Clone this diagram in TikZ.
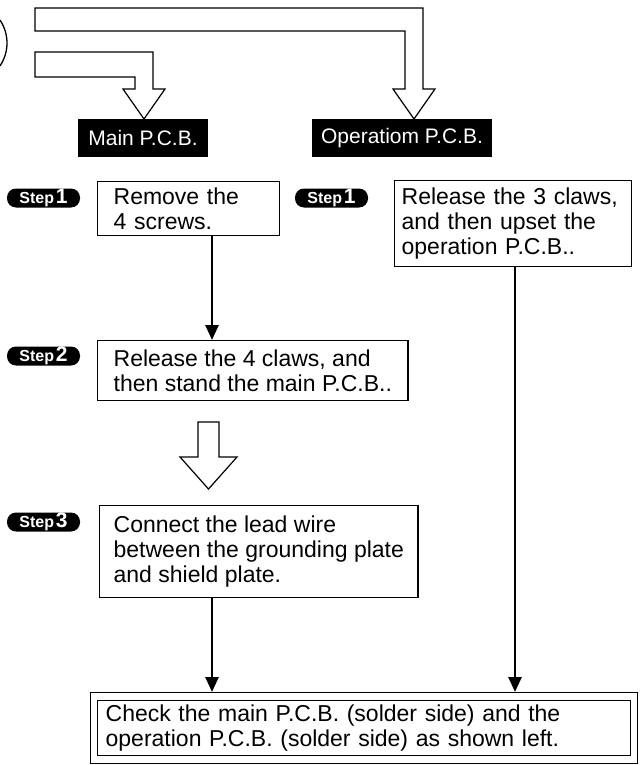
\documentclass[tikz,border=0pt]{standalone}
\usepackage{fontspec}
\setmainfont{Liberation Sans}
\usetikzlibrary{arrows.meta}

\tikzset{
  stepbox/.style={draw, line width=1.3pt, fill=white, align=left, anchor=north west,
    inner ysep=0pt, font=\fontsize{23}{25}\selectfont},
  pcblbl/.style={fill=black, text=white, minimum height=38pt, inner sep=0pt,
    font=\fontsize{21}{24}\selectfont},
  badge/.style={fill=black, text=white, rounded corners=9pt, minimum width=73pt,
    minimum height=19pt, inner sep=0pt, font=\bfseries},
  hollow/.style={draw, line width=1.2pt, fill=white},
  flow/.style={line width=2.6pt, -{Triangle[width=13pt,length=15pt]}},
}
\newcommand{\badgetext}[1]{{\fontsize{16}{16}\selectfont Step}\,{\fontsize{21}{21}\selectfont #1}}

\begin{document}
\begin{tikzpicture}[x=1pt, y=-1pt]
    \useasboundingbox (0,0) rectangle (644,765);
    % hollow arrows at the top
    \draw[line width=1.3pt] (-34,43) ++(-34:41pt) arc[start angle=-34, end angle=34, radius=41pt];
    \draw[hollow] (35,8) -- (423,8) -- (423,89) -- (435,89) -- (414,119) -- (393,89) -- (405,89) -- (405,31) -- (35,31) -- cycle;
    \draw[hollow] (35,52) -- (153,52) -- (153,89) -- (165,89) -- (144,119) -- (123,89) -- (135,89) -- (135,77) -- (35,77) -- cycle;

    \node[pcblbl, minimum width=130pt] (mainlbl) at (143,138) {Main P.C.B.};
    \node[pcblbl, minimum width=180pt] (oplbl) at (402,138) {Operatiom P.C.B.};

    \node[badge] (stpA) at (43.5,198) {\badgetext{1}};
    \node[badge] (stpB) at (331.5,198) {\badgetext{1}};
    \node[badge] (stpC) at (43.5,356) {\badgetext{2}};
    \node[badge] (stpD) at (43.5,522) {\badgetext{3}};

    \node[stepbox, inner xsep=16pt, text width=150pt, minimum height=54pt] (screws) at (97,181)
        {Remove the\\4 screws.};
    \node[stepbox, inner xsep=16pt, minimum height=60pt] (claws) at (97,340)
        {Release the 4 claws, and\\then stand the main P.C.B..};
    \node[stepbox, inner xsep=14pt, minimum height=92pt] (lead) at (99,505)
        {Connect the lead wire\\between the grounding plate\\and shield plate.};
    \node[stepbox, inner xsep=7pt, text width=223pt, minimum height=86pt] (upset) at (394,180)
        {Release the 3 claws,\\and then upset the\\operation P.C.B..};

    \node[draw, line width=1.3pt, anchor=north west, minimum width=547pt, minimum height=71pt] (checkout) at (90,692) {};
    \node[stepbox, inner xsep=8pt, text width=517pt, minimum height=55pt] (check) at (97,700)
        {Check the main P.C.B. (solder side) and the\\operation P.C.B. (solder side) as shown left.};

    \draw[hollow] (198,422) -- (219,422) -- (219,457) -- (237,457) -- (208.5,489) -- (180,457) -- (198,457) -- cycle;

    \coordinate (lcol) at (212,0);
    \coordinate (rcol) at (515,0);
    \draw[flow] (screws.south -| lcol) -- (claws.north -| lcol);
    \draw[flow] (lead.south -| lcol) -- (checkout.north -| lcol);
    \draw[flow] (upset.south -| rcol) -- (checkout.north -| rcol);
\end{tikzpicture}
\end{document}
